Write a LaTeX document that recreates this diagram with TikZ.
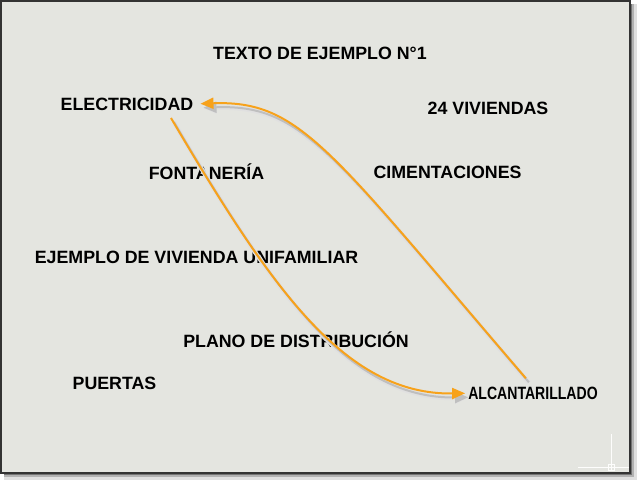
\documentclass[tikz,border=0pt]{standalone}
\usepackage{fontspec}
\setmainfont{Liberation Sans}
\usetikzlibrary{arrows.meta}
\definecolor{planbg}{HTML}{E4E5E0}
\definecolor{planorange}{HTML}{F7A21B}
\tikzset{
  rotulo/.style={inner sep=0pt, text height=13pt, text depth=0pt, font=\fontsize{17.8}{20}\selectfont\bfseries},
  flecha/.style={draw=planorange, line width=2pt, -{Triangle[length=13pt,width=11pt]},
    preaction={draw=black!12, line width=4.5pt, transform canvas={xshift=3pt, yshift=-4.5pt}},
    preaction={draw=black!25, line width=2pt, transform canvas={xshift=3pt, yshift=-4pt}}}
}
\begin{document}
\begin{tikzpicture}[x=1pt,y=-1pt]
\useasboundingbox (0,0) rectangle (640,483);
\fill[black!12] (4,4) rectangle (637,480);
\fill[black!30] (4,4) rectangle (634,477);
\fill[black!55] (4,4) rectangle (632,475);
\filldraw[fill=planbg, draw=black!80, line width=1.5pt] (0.75,0.75) rectangle (630,473);
% icono del sistema de coordenadas
\draw[white!92!planbg, line width=0.8pt] (611,434) -- (611,470);
\draw[white!92!planbg, line width=0.8pt] (578,467) -- (629,467);
\draw[white!92!planbg, line width=0.8pt] (608,464) rectangle (614,470);
\node[rotulo] (titulo) at (320,53.3) {TEXTO DE EJEMPLO N°1};
\node[rotulo] (elec) at (127,103.7) {ELECTRICIDAD};
\node[rotulo] (viv) at (488,108.3) {24 VIVIENDAS};
\node[rotulo] (font) at (206.5,173.3) {FONTANERÍA};
\node[rotulo] (cimen) at (447.5,172.3) {CIMENTACIONES};
\node[rotulo] (unifam) at (196.5,256.7) {EJEMPLO DE VIVIENDA UNIFAMILIAR};
\node[rotulo] (plano) at (296,341) {PLANO DE DISTRIBUCIÓN};
\node[rotulo] (puertas) at (114.5,382.7) {PUERTAS};
\node[rotulo, inner xsep=3pt] (alc) at (533,393.3) {\scalebox{0.79}[1]{ALCANTARILLADO}};
\coordinate (elecpie) at (171,118);
\draw[flecha, shorten <=11pt, shorten >=-1pt] (alc.north) .. controls (330,150) and (300,100) .. ([xshift=8pt]elec.east);
\draw[flecha] (elecpie) .. controls (271,288) and (345,395) .. (alc.west);
\end{tikzpicture}
\end{document}
